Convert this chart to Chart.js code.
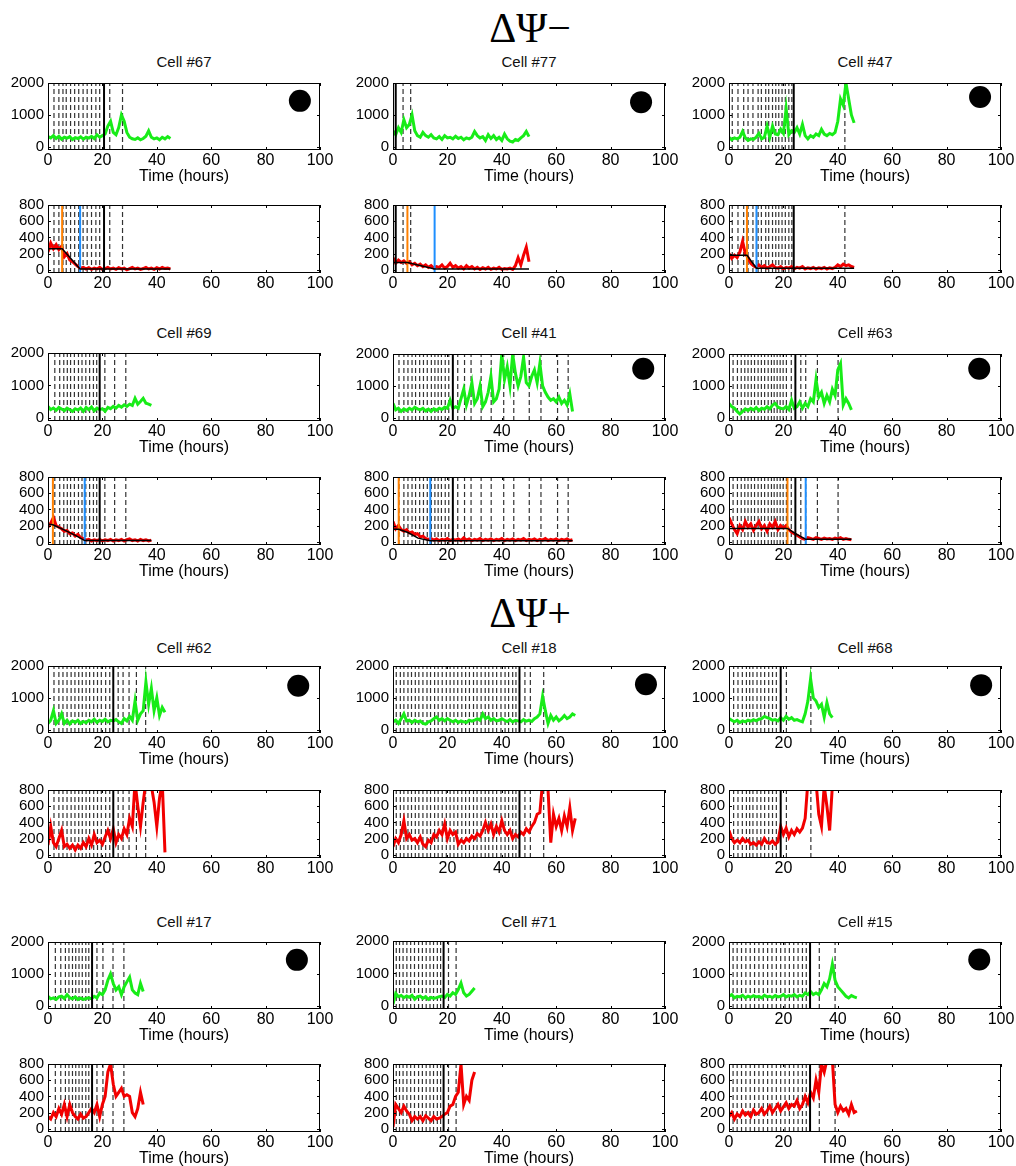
<!DOCTYPE html>
<html>
<head>
<meta charset="utf-8">
<script src="https://cdn.jsdelivr.net/npm/chart.js@4.4.1/dist/chart.umd.min.js"></script>
<style>
    body { margin: 0; width: 1016px; height: 1166px; position: relative; overflow: hidden; background: #fff;
           font-family: "Liberation Sans", Arial, sans-serif; }
    canvas { position: absolute; }
    .cell { position: absolute; width: 272px; height: 18px; line-height: 18px; text-align: center; font-size: 15px; color: #111; }
    .head { position: absolute; left: 380px; width: 300px; height: 50px; line-height: 50px; text-align: center;
            font-family: "Liberation Serif", "DejaVu Serif", serif; font-size: 42px; color: #000; }
</style>
</head>
<body>
<div id="fig"></div>
<script>
// axis ticks
const xTicks = [0, 20, 40, 60, 80, 100];
const gTicks = [0, 1000, 2000];
const rTicks = [0, 200, 400, 600, 800];
const gRange = [-100, 2000];
const rRange = [-40, 800];

// traces, one value per hour from t = 0
const g67 = [320,280,350,260,330,240,300,270,320,230,290,260,310,240,300,270,330,260,380,300,350,400,650,800,450,380,600,1000,800,450,300,250,230,280,220,260,330,500,300,250,280,220,300,250,320,260];
const r67 = [220,330,260,310,250,290,160,200,120,100,70,40,20,30,10,25,5,20,10,30,5,15,30,10,20,5,25,10,20,0,15,30,10,20,5,15,30,10,20,5,25,10,30,15,20,10];
const g77 = [500,380,600,450,850,600,700,1000,500,350,300,450,350,300,380,280,250,320,230,350,280,300,250,330,260,300,220,280,250,300,480,350,280,320,200,380,260,350,230,300,200,400,250,180,150,230,200,280,350,480,320];
const r77 = [150,80,120,90,110,80,100,60,80,50,70,40,60,30,50,20,40,30,60,20,40,80,30,50,20,40,10,50,20,40,10,30,5,25,10,30,5,20,10,30,5,15,10,20,5,50,150,60,180,280,100];
const g47 = [300,220,280,250,300,480,280,200,250,230,300,420,250,300,650,300,650,400,380,550,420,1200,380,500,450,600,400,700,350,250,350,300,400,350,550,400,350,420,380,450,800,1500,1300,2000,1500,1000,750];
const r47 = [200,140,180,150,220,350,200,150,80,50,30,60,30,50,20,40,60,30,20,40,10,30,20,40,10,30,20,40,10,25,15,30,10,25,15,30,10,25,15,30,60,40,70,50,60,40,30];
const g69 = [350,250,300,230,320,270,220,300,250,200,280,240,300,200,320,250,330,220,300,250,280,200,320,280,350,300,380,330,400,350,420,380,600,420,500,600,450,420,380];
const r69 = [180,230,300,200,180,160,130,140,100,110,70,90,50,40,20,30,10,25,15,30,10,25,15,30,10,25,15,30,10,25,35,15,25,10,30,15,25,10,20];
const g41 = [450,250,300,200,280,230,300,250,330,280,250,300,220,270,200,280,240,300,260,330,300,550,300,350,300,600,900,400,700,1100,450,600,1000,350,500,800,1300,500,600,900,2000,1200,1600,1000,2000,1400,1000,1300,1900,1100,1000,1300,1500,1100,1700,1000,800,650,550,600,500,650,450,550,400,750,200];
const r41 = [250,160,200,150,130,150,110,120,90,100,60,70,40,30,40,20,35,15,30,20,40,15,30,20,35,15,50,20,35,15,30,20,40,15,30,20,35,15,30,20,40,15,30,20,35,15,30,20,40,15,30,20,35,15,30,20,40,15,30,20,35,15,30,20,35,15,25];
const g63 = [450,350,300,200,120,200,280,230,300,250,320,230,300,270,350,280,400,450,330,300,280,350,260,550,300,350,500,300,450,350,600,500,1200,650,800,450,700,500,900,700,1500,1700,400,600,450,250];
const r63 = [300,220,150,100,200,150,250,180,220,140,200,250,160,200,130,220,180,250,150,200,170,200,150,120,100,80,60,40,30,50,40,30,50,40,30,45,35,40,30,45,35,50,30,40,30,25];
const g62 = [200,300,600,200,300,500,200,300,180,280,230,300,200,260,220,300,250,330,230,300,260,330,250,300,280,320,250,200,350,280,420,300,900,300,500,600,1500,800,1300,600,1000,450,700,550];
const r62 = [120,350,150,100,200,300,100,130,80,120,60,120,80,150,100,200,120,250,150,180,130,220,300,200,320,150,250,200,320,250,450,350,900,600,350,650,900,900,850,650,350,700,900,30];
const g18 = [250,300,200,350,500,280,300,230,300,250,280,200,180,250,280,350,400,300,350,280,350,300,250,300,230,280,250,230,300,270,300,350,300,500,350,400,300,350,280,300,350,300,260,320,250,300,280,250,320,270,300,260,350,400,500,1050,600,200,450,300,400,280,350,450,350,400,500,450];
const r18 = [100,200,150,250,420,200,250,180,200,150,220,130,100,180,150,250,220,300,250,380,200,300,250,280,130,180,150,200,170,230,200,260,230,300,400,300,380,250,350,280,420,300,250,300,200,250,220,280,250,320,280,350,400,500,520,900,900,800,150,500,350,450,300,480,350,580,300,450];
const g68 = [350,300,250,300,230,280,250,300,270,320,280,330,350,420,380,350,300,320,280,380,300,420,330,380,300,320,280,250,500,900,1600,1000,900,700,800,400,850,500,380];
const r68 = [300,200,150,180,150,200,160,180,130,150,120,160,130,200,150,140,170,130,160,350,250,330,220,300,250,320,280,330,450,900,900,900,900,500,350,850,600,300,850];
const g17 = [300,220,250,200,280,300,230,350,250,220,280,200,240,200,230,250,220,300,250,400,350,500,800,1000,700,500,600,350,600,750,900,500,400,350,700,450];
const r17 = [150,120,200,150,250,180,300,150,300,200,150,120,180,130,150,200,250,200,300,150,300,400,700,800,550,400,450,500,400,420,400,200,150,250,450,300];
const g71 = [50,380,280,320,250,300,260,320,200,280,300,230,280,200,260,230,250,280,300,250,350,300,400,350,500,700,400,300,350,450,550];
const r71 = [20,300,250,200,280,220,180,100,150,120,150,100,160,130,100,150,120,130,150,180,200,280,300,400,450,800,300,400,350,600,700];
const g15 = [300,350,250,300,280,330,250,300,270,320,280,300,250,330,280,300,260,320,280,300,350,280,320,300,350,280,330,300,400,350,450,350,400,350,500,700,600,850,1300,800,600,500,400,300,250,320,280,250];
const r15 = [150,200,120,180,150,220,170,200,150,230,180,200,250,180,220,280,200,250,300,220,270,320,250,300,280,350,250,300,400,320,450,380,600,450,800,700,850,900,850,300,200,280,220,250,180,300,200,220];

// division times (dashed), drug time (solid black), orange / blue markers (hours)
const div67 = [2.2,4.0,5.5,6.7,8.3,9.8,11.3,12.9,14.4,16.0,17.6,19.0,22.7,27.4];
const div77 = [3.7,6.5];
const div47 = [1.2,3.3,5.4,7.0,8.8,10.7,11.9,13.5,14.6,16.0,17.2,18.3,19.5,20.7,22.0,23.1,42.6];
const div69 = [2.5,4.3,5.8,7.1,8.3,9.7,11.2,12.5,13.9,15.3,16.7,17.9,20.9,24.5,28.6];
const div41 = [2.2,4.0,5.5,7.0,8.3,9.8,11.2,12.6,14.1,15.4,16.6,17.8,19.2,20.5,23.8,26.3,28.7,32.4,36.1,40.7,44.4,50.1,54.4,60.5,64.4];
const div63 = [1.5,3.1,4.5,5.8,7.0,8.2,9.4,10.7,11.9,13.1,14.4,15.6,16.6,17.7,18.8,19.9,21.1,22.9,26.4,28.2,32.5,40.1];
const div62 = [2.2,4.0,5.5,7.0,8.5,9.9,11.3,12.6,14.0,15.3,16.8,18.2,19.6,21.2,22.7,25.8,27.6,29.8,32.5,35.9];
const div18 = [1.2,2.7,4.0,5.5,6.8,8.2,9.5,11.0,12.5,13.8,15.3,16.6,18.1,19.6,21.0,22.4,23.8,25.3,26.7,28.1,29.6,30.9,32.4,33.9,35.2,36.7,38.1,39.7,41.2,42.5,44.0,45.2,48.5,50.5,55.4];
const div68 = [1.7,3.3,4.9,6.4,7.6,8.8,10.3,11.7,13.1,14.6,16.0,17.4,21.1,30.1];
const div17 = [2.7,4.7,6.4,7.7,9.0,10.2,11.4,12.6,13.9,15.0,18.0,20.2,23.9,27.9];
const div71 = [1.2,2.4,3.7,5.1,6.5,7.9,9.4,10.8,12.2,13.6,14.9,16.3,17.5,20.4,23.2];
const div15 = [1.5,3.0,4.6,6.2,7.8,9.4,11.0,12.6,14.2,15.8,17.4,19.0,20.6,22.2,23.8,25.4,27.0,28.4,33.2,39.0];

const drug = { 67: 20.6, 77: 1.0, 47: 23.8, 69: 19.0, 41: 22.0, 63: 24.4, 62: 24.0, 18: 46.5, 68: 19.0, 17: 16.2, 71: 18.6, 15: 29.8 };
const orangeT = { 67: 5.2, 77: 5.3, 47: 6.6, 69: 1.8, 41: 2.1, 63: 21.5 };
const blueT = { 67: 11.8, 77: 15.3, 47: 10.1, 69: 13.5, 41: 13.7, 63: 28.2 };

// fitted decay curves (hour, value)
const fit67 = [[0,260],[5.2,260],[11.8,10],[45,10]];
const fit77 = [[0,90],[5.3,90],[15.3,10],[50,10]];
const fit47 = [[0,180],[6.6,180],[10.1,20],[46,20]];
const fit69 = [[0,216],[1.8,210],[6.7,135],[10.4,73],[13.5,15],[38,15]];
const fit41 = [[0,155],[2.1,155],[5.5,114],[9.2,45],[13.7,12],[66,12]];
const fit63 = [[0,165],[21.5,165],[24,110],[28.2,30],[45,30]];

// black dot marker (hour, value)
const dots = { 67: [92.6,1440], 77: [91.2,1400], 47: [92.3,1560], 41: [92,1540], 63: [92,1540],
               62: [92,1380], 18: [93,1430], 68: [92.7,1400], 17: [91.5,1440], 15: [92,1450] };

const cells = [
    { id: 67, row: 0, col: 0, green: g67, red: r67, div: div67, fit: fit67 },
    { id: 77, row: 0, col: 1, green: g77, red: r77, div: div77, fit: fit77 },
    { id: 47, row: 0, col: 2, green: g47, red: r47, div: div47, fit: fit47 },
    { id: 69, row: 1, col: 0, green: g69, red: r69, div: div69, fit: fit69 },
    { id: 41, row: 1, col: 1, green: g41, red: r41, div: div41, fit: fit41 },
    { id: 63, row: 1, col: 2, green: g63, red: r63, div: div63, fit: fit63 },
    { id: 62, row: 2, col: 0, green: g62, red: r62, div: div62 },
    { id: 18, row: 2, col: 1, green: g18, red: r18, div: div18 },
    { id: 68, row: 2, col: 2, green: g68, red: r68, div: div68 },
    { id: 17, row: 3, col: 0, green: g17, red: r17, div: div17 },
    { id: 71, row: 3, col: 1, green: g71, red: r71, div: div71 },
    { id: 15, row: 3, col: 2, green: g15, red: r15, div: div15 }
];

// layout
const colLeft = [48, 393, 729];
const greenTop = [82, 353, 665, 941];
const redTop = [205, 477, 790, 1064];
const titleMid = [62, 333, 648, 922];
const redAxisTitle = [false, true, false, true];
const PLOT_W = 272, PLOT_H = 68, Y_W = 50, X_H = 36, PAD_T = 10, PAD_R = 20;
const FONT = '"Liberation Sans", Arial, sans-serif';

const fig = document.getElementById('fig');

function addText(cls, text, left, top) {
    const d = document.createElement('div');
    d.className = cls;
    d.textContent = text;
    if (left !== null) d.style.left = left + 'px';
    d.style.top = top + 'px';
    fig.appendChild(d);
}

function series(ys) {
    return ys.map((v, i) => ({ x: i, y: v }));
}

function vline(x, range, color, width, dash) {
    return {
        data: [{ x: x, y: range[0] }, { x: x, y: range[1] }],
        borderColor: color, borderWidth: width, borderDash: dash || [],
        pointRadius: 0, clip: 0
    };
}

const boxPlugin = {
    id: 'box',
    afterDatasetsDraw(chart) {
        const { ctx, chartArea: a, scales: { x, y } } = chart;
        ctx.save();
        ctx.strokeStyle = '#000';
        ctx.lineWidth = 1;
        ctx.strokeRect(a.left + 0.5, a.top + 0.5, a.right - a.left - 1, a.bottom - a.top - 1);
        ctx.beginPath();
        x.ticks.forEach(t => {
            const px = Math.round(x.getPixelForValue(t.value)) + 0.5;
            ctx.moveTo(px, a.bottom); ctx.lineTo(px, a.bottom - 3);
            ctx.moveTo(px, a.top); ctx.lineTo(px, a.top + 3);
        });
        y.ticks.forEach(t => {
            const py = Math.round(y.getPixelForValue(t.value)) + 0.5;
            ctx.moveTo(a.left, py); ctx.lineTo(a.left + 3, py);
            ctx.moveTo(a.right, py); ctx.lineTo(a.right - 3, py);
        });
        ctx.stroke();
        ctx.restore();
    }
};

function makePanel(left, top, range, yTicks, datasets, showTitle) {
    const canvas = document.createElement('canvas');
    canvas.width = Y_W + PLOT_W + PAD_R;
    canvas.height = PAD_T + PLOT_H + X_H;
    canvas.style.left = (left - Y_W) + 'px';
    canvas.style.top = (top - PAD_T) + 'px';
    fig.appendChild(canvas);
    new Chart(canvas, {
        type: 'line',
        data: { datasets: datasets },
        options: {
            responsive: false, animation: false, devicePixelRatio: 1,
            layout: { padding: { top: PAD_T, right: PAD_R, left: 0, bottom: 0 } },
            plugins: { legend: { display: false }, tooltip: { enabled: false } },
            elements: { point: { radius: 0 }, line: { tension: 0 } },
            scales: {
                x: {
                    type: 'linear', min: 0, max: 100,
                    grid: { display: false, drawTicks: false }, border: { display: false },
                    afterBuildTicks: s => { s.ticks = xTicks.map(v => ({ value: v })); },
                    afterFit: s => { s.height = X_H; s.paddingLeft = 0; s.paddingRight = 0; },
                    ticks: { font: { family: FONT, size: 16 }, color: '#000', padding: 1, maxRotation: 0, autoSkip: false,
                             callback: v => String(v) },
                    title: { display: showTitle, text: 'Time (hours)', font: { family: FONT, size: 16 }, color: '#000', padding: 0 }
                },
                y: {
                    type: 'linear', min: range[0], max: range[1],
                    grid: { display: false, drawTicks: false }, border: { display: false },
                    afterBuildTicks: s => { s.ticks = yTicks.map(v => ({ value: v })); },
                    afterFit: s => { s.width = Y_W; s.paddingTop = 0; s.paddingBottom = 0; },
                    ticks: { font: { family: FONT, size: 15 }, color: '#000', padding: 4, autoSkip: false,
                             callback: v => String(v) }
                }
            }
        },
        plugins: [boxPlugin]
    });
}

addText('head', 'ΔΨ−', null, 28 - 25);
addText('head', 'ΔΨ+', null, 613 - 25);

cells.forEach(c => {
    const left = colLeft[c.col];
    addText('cell', 'Cell #' + c.id, left, titleMid[c.row] - 9);

    const dashed = r => c.div.map(t => vline(t, r, '#333', 1.2, [5, 3]));

    const gSets = [];
    if (dots[c.id]) {
        gSets.push({ data: [{ x: dots[c.id][0], y: dots[c.id][1] }], showLine: false,
                     pointRadius: 11, pointBackgroundColor: '#000', pointBorderWidth: 0 });
    }
    gSets.push(vline(drug[c.id], gRange, '#000', 2));
    gSets.push({ data: series(c.green), borderColor: '#18ec18', borderWidth: 3, pointRadius: 0, clip: 0 });
    makePanel(left, greenTop[c.row], gRange, gTicks, gSets.concat(dashed(gRange)), true);

    const rSets = [];
    if (c.fit) {
        rSets.push({ data: c.fit.map(p => ({ x: p[0], y: p[1] })), borderColor: '#000', borderWidth: 1.5, pointRadius: 0, clip: 0 });
    }
    rSets.push(vline(drug[c.id], rRange, '#000', 2));
    if (orangeT[c.id] !== undefined) rSets.push(vline(orangeT[c.id], rRange, '#ff8000', 2));
    if (blueT[c.id] !== undefined) rSets.push(vline(blueT[c.id], rRange, '#1e8fff', 2));
    rSets.push({ data: series(c.red), borderColor: '#f20000', borderWidth: 3, pointRadius: 0, clip: 0 });
    makePanel(left, redTop[c.row], rRange, rTicks, rSets.concat(dashed(rRange)), redAxisTitle[c.row]);
});
</script>
</body>
</html>
